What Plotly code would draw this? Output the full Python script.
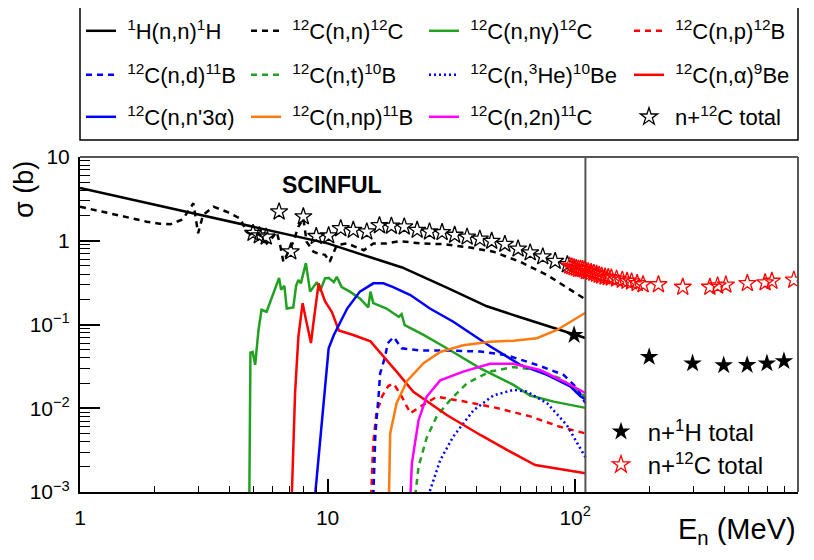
import plotly.graph_objects as go

# neutron energies (MeV) and cross sections (b)
h_el_e = [1, 2, 3, 5, 7, 10, 15, 20, 30, 44, 60, 80, 100, 110]
h_el_s = [4.27, 2.7, 2.1, 1.5, 1.2, 0.93, 0.63, 0.48, 0.28, 0.165, 0.122, 0.094, 0.076, 0.069]

c_el_e = [1, 1.4, 1.86, 2.1, 2.31, 2.6, 2.87, 3.0, 3.14, 3.46, 3.91, 4.43, 4.71, 5.0, 5.3, 5.68,
          6.0, 6.23, 6.43, 6.63, 6.9, 7.27, 7.62, 7.98, 8.23, 8.77, 9.2, 9.76, 10.2, 10.9, 12.0,
          14.0, 15.3, 17.3, 19.6, 23.6, 29.3, 37.6, 46.7, 60, 77, 92.5, 110]
c_el_s = [2.55, 2.05, 1.69, 1.6, 1.57, 1.8, 2.8, 1.23, 2.03, 2.55, 2.22, 1.85, 1.28, 1.15, 1.2, 0.93,
          1.1, 1.28, 0.89, 0.56, 0.7, 0.97, 1.47, 1.84, 0.97, 0.74, 0.7, 0.68, 0.56, 0.89, 0.93,
          0.77, 0.93, 0.93, 0.99, 0.93, 0.91, 0.83, 0.74, 0.56, 0.39, 0.28, 0.2]

c_ng_e = [4.83, 4.88, 4.98, 5.1, 5.26, 5.33, 5.41, 5.67, 5.95, 6.23, 6.37, 6.49, 6.69, 6.84, 7.27,
          7.46, 7.62, 7.8, 8.17, 8.5, 8.77, 9.05, 9.33, 9.76, 10.1, 10.6, 10.9, 11.4, 12.3, 13.5,
          14.6, 14.9, 15.3, 17.3, 19.4, 19.9, 20.5, 24.4, 30.3, 41.4, 56.3, 65.8, 81.9, 110]
c_ng_s = [0.0009, 0.046, 0.047, 0.033, 0.086, 0.119, 0.15, 0.142, 0.205, 0.29, 0.36, 0.26, 0.29,
          0.155, 0.16, 0.29, 0.34, 0.31, 0.54, 0.247, 0.28, 0.32, 0.25, 0.356, 0.36, 0.32, 0.37,
          0.28, 0.247, 0.205, 0.16, 0.247, 0.18, 0.155, 0.123, 0.133, 0.098, 0.075, 0.052, 0.03,
          0.019, 0.0142, 0.012, 0.0101]

c_p_e = [15.0, 15.3, 15.8, 16.3, 16.6, 17.6, 18.5, 19.9, 21.6, 23.6, 27.6, 35.3, 48.1, 65.8, 86.9, 110]
c_p_s = [0.0009, 0.0039, 0.0095, 0.0115, 0.0139, 0.0185, 0.0196, 0.0139, 0.0087, 0.0104, 0.0137,
         0.0121, 0.0101, 0.008, 0.006, 0.005]

c_d_e = [15.3, 15.6, 16.1, 16.3, 17.1, 17.5, 18.5, 19.9, 23.6, 30.3, 41.4, 52.8, 70, 89.8, 101.8, 110]
c_d_s = [0.0009, 0.005, 0.015, 0.026, 0.042, 0.06, 0.071, 0.052, 0.049, 0.049, 0.0475, 0.043,
         0.033, 0.025, 0.0174, 0.0115]

c_t_e = [22.6, 23.3, 25.1, 27.6, 31.3, 36.6, 45.3, 56.3, 70, 86.9, 110]
c_t_s = [0.0009, 0.002, 0.0044, 0.008, 0.0126, 0.0199, 0.0274, 0.031, 0.0286, 0.0228, 0.0137]

c_he3_e = [25.5, 28.5, 32.2, 38.9, 46.7, 56.3, 63.8, 77, 92.5, 110]
c_he3_s = [0.0009, 0.0024, 0.0046, 0.0095, 0.0142, 0.0166, 0.0158, 0.0115, 0.0063, 0.0026]

c_a_e = [7.17, 7.39, 7.62, 7.93, 8.15, 8.38, 8.57, 8.75, 9.2, 9.76, 10.4, 11.1, 12.7, 14.9, 16.8,
         19.0, 22.2, 30.3, 41.4, 52.8, 69, 110]
c_a_s = [0.0009, 0.015, 0.071, 0.18, 0.12, 0.085, 0.06, 0.1, 0.31, 0.19, 0.142, 0.085, 0.075,
         0.063, 0.042, 0.0274, 0.0157, 0.0083, 0.0048, 0.0032, 0.0021, 0.00167]

c_3a_e = [8.9, 10.1, 10.6, 12.0, 13.5, 15.3, 16.8, 18.4, 21.6, 25.9, 32.2, 38.9, 45.3, 60, 77, 95.5, 105, 110]
c_3a_s = [0.0009, 0.052, 0.075, 0.155, 0.247, 0.31, 0.31, 0.28, 0.225, 0.155, 0.108, 0.075, 0.055,
          0.033, 0.025, 0.0183, 0.0139, 0.0128]

c_np_e = [17.7, 17.9, 19.0, 20.9, 24.4, 28.5, 35.3, 45.3, 56.3, 70, 84.5, 110]
c_np_s = [0.0009, 0.005, 0.0115, 0.021, 0.0345, 0.047, 0.0565, 0.0624, 0.064, 0.0685, 0.086, 0.138]

c_2n_e = [21.6, 21.9, 23.3, 25.1, 28.5, 35.3, 45.3, 56.3, 72, 89.8, 110]
c_2n_s = [0.0009, 0.0022, 0.0072, 0.0137, 0.0215, 0.0274, 0.034, 0.034, 0.0286, 0.021, 0.0152]

# total cross sections
c_tot_lo_e = [5.0, 5.3, 5.65, 6.37, 7.1, 7.98, 9.0, 10.1, 11.3, 12.7, 14.4, 16.2, 18.1, 20.4,
              23, 25.8, 29, 32.6, 36.6, 41.2, 46, 52, 58.8, 65.8, 74, 83, 93]
c_tot_lo_s = [1.23, 1.15, 1.11, 2.22, 0.74, 1.94, 1.13, 1.15, 1.4, 1.34, 1.28, 1.52, 1.5, 1.47,
              1.34, 1.28, 1.26, 1.17, 1.11, 1.05, 0.99, 0.91, 0.8, 0.72, 0.645, 0.57, 0.52]

c_tot_hi_e = [95, 97, 99, 101, 103, 105, 107, 109, 111, 113, 116, 119, 122, 125, 128, 132, 136, 140,
              147, 155, 162, 169, 178, 188, 217, 272, 350, 376, 406, 496, 585, 623, 764]
c_tot_hi_s = [0.50, 0.49, 0.48, 0.47, 0.46, 0.46, 0.455, 0.45, 0.43, 0.43, 0.42, 0.41, 0.40, 0.39,
              0.38, 0.37, 0.365, 0.36, 0.35, 0.34, 0.33, 0.324, 0.31, 0.30, 0.30, 0.28, 0.28, 0.29,
              0.297, 0.31, 0.316, 0.33, 0.34]

h_tot_e = [99, 199, 298, 398, 495, 595, 697]
h_tot_s = [0.075, 0.041, 0.0343, 0.0325, 0.0328, 0.0343, 0.0365]

scinful_limit = 110

W, H = 814, 560
PAGE = 8                      # the html body margin shifts the figure by this much
X0, X1, Y0, Y1 = 80, 798, 157, 492   # wanted frame, in window pixels
L, T = X0 - PAGE, Y0 - PAGE
R, B = W - L - (X1 - X0), H - T - (Y1 - Y0)
FONT = 'Liberation Sans, Arial, Helvetica, sans-serif'
NB = '\u00a0'

GREEN = '#22a022'
ORANGE = '#ff7a10'


def sup(s):
    return '<sup>' + s + '</sup>'


# (name, x, y, color, dash, legend column, legend row)
curves = [
    (sup('1') + 'H(n,n)' + sup('1') + 'H', h_el_e, h_el_s, 'black', 'solid', 0, 0),
    (sup('12') + 'C(n,n)' + sup('12') + 'C', c_el_e, c_el_s, 'black', '6px,5px', 1, 0),
    (sup('12') + 'C(n,nγ)' + sup('12') + 'C', c_ng_e, c_ng_s, GREEN, 'solid', 2, 0),
    (sup('12') + 'C(n,p)' + sup('12') + 'B', c_p_e, c_p_s, 'red', '6px,5px', 3, 0),
    (sup('12') + 'C(n,d)' + sup('11') + 'B', c_d_e, c_d_s, 'blue', '6px,5px', 0, 1),
    (sup('12') + 'C(n,t)' + sup('10') + 'B', c_t_e, c_t_s, GREEN, '6px,5px', 1, 1),
    (sup('12') + 'C(n,' + sup('3') + 'He)' + sup('10') + 'Be', c_he3_e, c_he3_s, 'blue', '2px,3px', 2, 1),
    (sup('12') + 'C(n,α)' + sup('9') + 'Be', c_a_e, c_a_s, 'red', 'solid', 3, 1),
    (sup('12') + "C(n,n'3α)", c_3a_e, c_3a_s, 'blue', 'solid', 0, 2),
    (sup('12') + 'C(n,np)' + sup('11') + 'B', c_np_e, c_np_s, ORANGE, 'solid', 1, 2),
    (sup('12') + 'C(n,2n)' + sup('11') + 'C', c_2n_e, c_2n_s, 'magenta', 'solid', 2, 2),
]

# window pixel where each legend line sample starts, and row centres
leg_cols = [87, 252, 430, 635]
leg_rows = [31, 75, 117]
SAMPLE_OFF = 6

legends = {}


def add_legend(idx, px, py, size=22):
    key = 'legend' if idx == 1 else 'legend%d' % idx
    legends[key] = dict(x=(px - PAGE - SAMPLE_OFF) / W, y=1 - (py - PAGE) / H,
                        xref='container', yref='container',
                        xanchor='left', yanchor='middle', bgcolor='rgba(0,0,0,0)',
                        borderwidth=0, font=dict(family=FONT, size=size, color='black'))
    return key


fig = go.Figure()

n = 0
for name, xs, ys, color, dash, col, row in curves:
    n += 1
    key = add_legend(n, leg_cols[col], leg_rows[row])
    fig.add_trace(go.Scatter(x=xs, y=ys, mode='lines', name=NB + name, legend=key,
                             line=dict(color=color, width=2.5, dash=dash)))

# SCINFUL upper limit
fig.add_trace(go.Scatter(x=[scinful_limit, scinful_limit], y=[1e-3, 10], mode='lines',
                         line=dict(color='#555555', width=2), showlegend=False, hoverinfo='skip'))

n += 1
key = add_legend(n, leg_cols[3], leg_rows[2])
fig.add_trace(go.Scatter(x=c_tot_lo_e, y=c_tot_lo_s, mode='markers',
                         name=NB + 'n+' + sup('12') + 'C total', legend=key,
                         marker=dict(symbol='star-open', size=13, color='black', line=dict(width=1.3))))

n += 1
key = add_legend(n, 607, 432, 24)
fig.add_trace(go.Scatter(x=h_tot_e, y=h_tot_s, mode='markers',
                         name=NB + 'n+' + sup('1') + 'H total', legend=key,
                         marker=dict(symbol='star', size=14, color='black', line=dict(width=0))))

n += 1
key = add_legend(n, 607, 465, 24)
fig.add_trace(go.Scatter(x=c_tot_hi_e, y=c_tot_hi_s, mode='markers',
                         name=NB + 'n+' + sup('12') + 'C total', legend=key,
                         marker=dict(symbol='star-open', size=13, color='red', line=dict(width=1.3))))


def px_x(p):
    return (p - X0) / (X1 - X0)


def px_y(p):
    return (Y1 - p) / (Y1 - Y0)


fig.update_layout(
    width=W, height=H,
    margin=dict(l=L, r=R, t=T, b=B, autoexpand=False),
    plot_bgcolor='white', paper_bgcolor='white',
    font=dict(family=FONT, size=20, color='black'),
    **legends,
    shapes=[
        # legend frame
        dict(type='rect', xref='paper', yref='paper', x0=0, x1=1, y0=px_y(140), y1=px_y(7),
             line=dict(color='black', width=1.5)),
        # top and right edges of the frame
        dict(type='line', xref='paper', yref='paper', x0=0, x1=1, y0=1, y1=1,
             line=dict(color='#555555', width=2)),
        dict(type='line', xref='paper', yref='paper', x0=1, x1=1, y0=0, y1=1,
             line=dict(color='#555555', width=2)),
    ],
    annotations=[
        dict(text='<b>SCINFUL</b>', xref='paper', yref='paper', x=px_x(332), y=px_y(185),
             xanchor='center', yanchor='middle', showarrow=False, font=dict(size=23)),
        dict(text='σ (b)', xref='paper', yref='paper', x=px_x(24), y=px_y(190), textangle=-90,
             xanchor='center', yanchor='middle', showarrow=False, font=dict(size=27)),
        dict(text='E<sub>n</sub> (MeV)', xref='paper', yref='paper', x=1, y=px_y(531),
             xanchor='right', yanchor='middle', showarrow=False, font=dict(size=29)),
    ],
)

x_minor = [2, 3, 4, 5, 6, 7, 8, 9, 20, 30, 40, 50, 60, 70, 80, 90, 200, 300, 400, 500, 600, 700]
y_minor = [m * d for d in [1e-3, 1e-2, 1e-1, 1] for m in range(2, 10)]

fig.update_xaxes(type='log', range=[0, 2.9], showgrid=False, zeroline=False,
                 tickvals=[1, 10, 100], ticktext=['1', '10', '10' + sup('2')],
                 ticks='inside', ticklen=13, tickwidth=1.5, tickcolor='black',
                 minor=dict(tickvals=x_minor, ticks='inside', ticklen=6, tickwidth=1.2, tickcolor='black'),
                 showline=True, linecolor='black', linewidth=2,
                 tickfont=dict(size=21), ticklabelstandoff=6)
fig.update_yaxes(type='log', range=[-3, 1], showgrid=False, zeroline=False,
                 tickvals=[1e-3, 1e-2, 1e-1, 1, 10],
                 ticktext=['10' + sup('−3'), '10' + sup('−2'), '10' + sup('−1'), '1', '10'],
                 ticks='inside', ticklen=20, tickwidth=1.5, tickcolor='black',
                 minor=dict(tickvals=y_minor, ticks='inside', ticklen=10, tickwidth=1.2, tickcolor='black'),
                 showline=True, linecolor='black', linewidth=2,
                 tickfont=dict(size=21), ticklabelstandoff=4)

fig.write_html('out.html')
